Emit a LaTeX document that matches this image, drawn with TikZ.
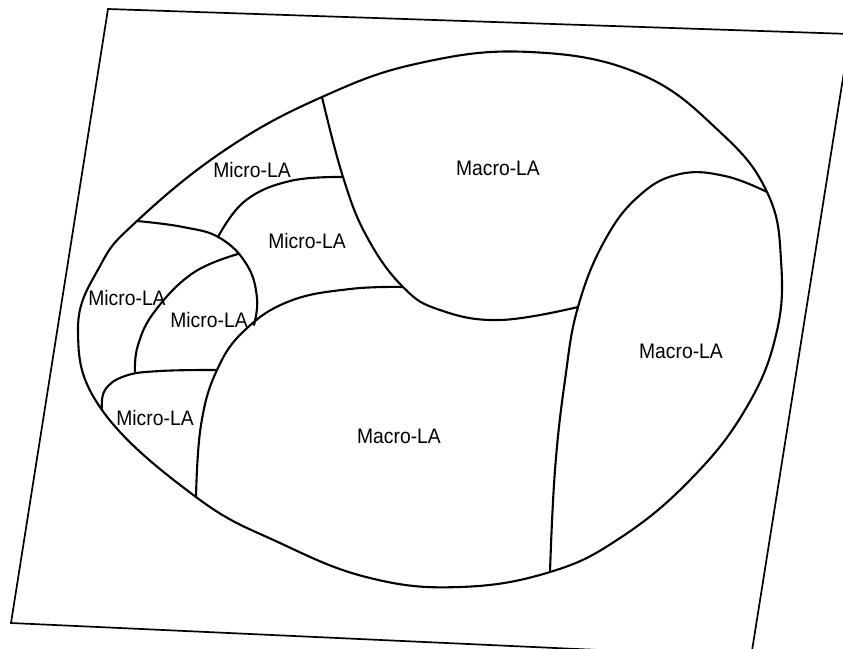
\documentclass[tikz,border=0pt]{standalone}
\usepackage{fontspec}
\setmainfont{Liberation Sans}[FakeStretch=0.92]
\usetikzlibrary{calc}
\tikzset{frame/.style={line width=1.7pt,line join=miter},
  zone/.style={line width=2.1pt,line join=round,line cap=round},
  lbl/.style={font=\fontsize{21}{24}\selectfont,inner sep=1pt}}

\begin{document}
\begin{tikzpicture}[x=1pt,y=-1pt]
% Plan : zones Micro-LA et Macro-LA dans un domaine incliné.
\useasboundingbox (0,0) rectangle (843,648);
\draw[frame] (108,9)--(850,34)--(751,657)--(11,623)--cycle;
\coordinate (jTop) at (322,97);
\coordinate (jRight) at (767,192);
\coordinate (jBot) at (550,572);
\coordinate (jBotL) at (196,497);
\coordinate (jLeft) at (102,410);
\coordinate (jUpL) at (137,221);
\coordinate (jMid) at (578,307);
\coordinate (jArc) at (403,287);
\draw[zone] plot[smooth cycle,tension=.7] coordinates{(jUpL) (225,150) (jTop) (420,63) (530,52) (640,74) (720,132) (jRight) (781,260) (776,335) (745,410) (690,480) (620,538) (jBot) (460,587) (370,578) (280,543) (jBotL) (jLeft) (78,330) (100,266)};
\draw[zone] plot[smooth,tension=.7] coordinates{(jTop) (343,177) (367,237) (jArc) (440,310) (500,320) (jMid)};
\draw[zone] plot[smooth,tension=.7] coordinates{(jRight) (725,176) (680,174) (640,195) (605,240) (jMid) (565,380) (555,470) (jBot)};
\draw[zone] plot[smooth,tension=.7] coordinates{(343,177) (290,181) (245,201) (218,237)};
\draw[zone] plot[smooth,tension=.7] coordinates{(jUpL) (183,227) (220,238) (247,265) (257,298) (254,325)};
\draw[zone] plot[smooth,tension=.7] coordinates{(238,254) (193,273) (155,311) (138,345) (135,372)};
\draw[zone] plot[smooth,tension=.7] coordinates{(jLeft) (105,390) (125,376) (160,371) (217,370)};
\draw[zone] plot[smooth,tension=.7] coordinates{(jArc) (350,289) (290,301) (245,330) (217,370) (201,425) (jBotL)};
\foreach \n/\p/\t in {miA/{252,170}/Micro-LA,miB/{307,241}/Micro-LA,miC/{127,298}/Micro-LA,
  miD/{209,320}/Micro-LA,miE/{155,418}/Micro-LA,maA/{498,168}/Macro-LA,
  maB/{681,351}/Macro-LA,maC/{399,436}/Macro-LA}
  \node[lbl] (\n) at (\p) {\t};
\end{tikzpicture}
\end{document}
